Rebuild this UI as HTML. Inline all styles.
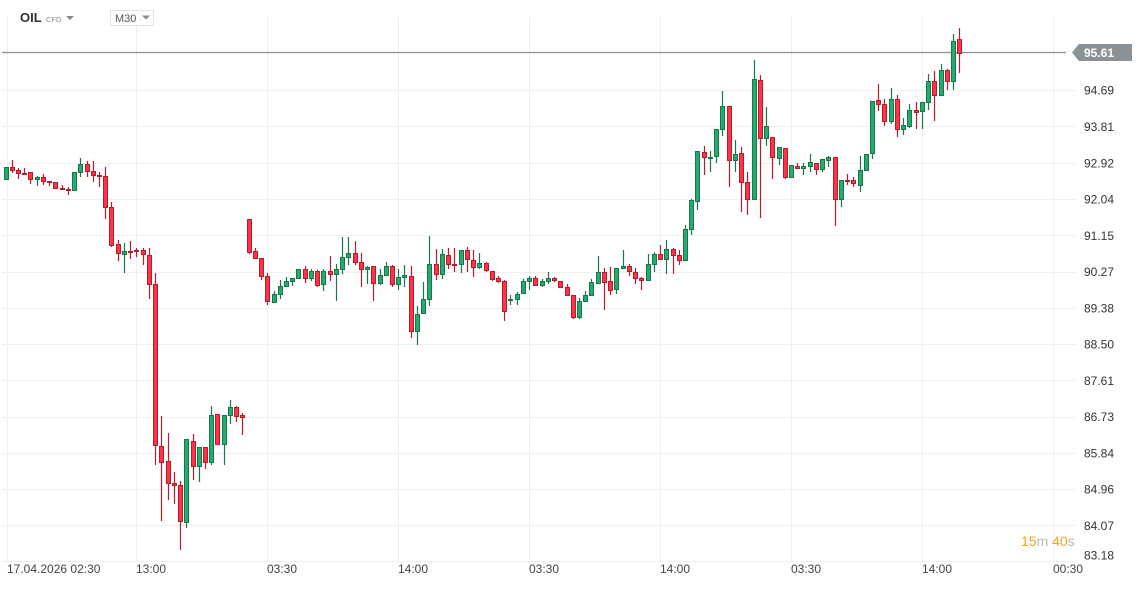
<!DOCTYPE html>
<html><head><meta charset="utf-8"><style>
html,body{margin:0;padding:0;background:#fff;}
body{width:1144px;height:586px;overflow:hidden;font-family:"Liberation Sans",Arial,sans-serif;}
svg text{font-family:"Liberation Sans",Arial,sans-serif;}
</style></head><body>
<svg id="c" width="1144" height="586" xmlns="http://www.w3.org/2000/svg">
<g id="grid" stroke="#efefef" stroke-width="1"></g>
<line x1="2" y1="561.5" x2="1075" y2="561.5" stroke="#efefef"/>
<line x1="2" y1="52.5" x2="1066" y2="52.5" stroke="#8a9297" stroke-width="1.3"/>
<polygon points="1072,52.5 1079,44 1132,44 1132,61 1079,61" fill="#8a9297"/>
<text x="1084" y="57" font-size="12" fill="#fff" font-weight="bold">95.61</text>
<g id="ylab" font-size="12" fill="#333"></g>
<g id="xlab" font-size="12" fill="#444"></g>
<g id="cand"></g>
<text x="20" y="22" font-size="13" font-weight="bold" fill="#333">OIL</text>
<text x="43" y="22" font-size="7.5" fill="#888">CFD</text>
<polygon points="66,16 74,16 70,20" fill="#888"/>
<rect x="110.5" y="10.5" width="43" height="15" fill="#fff" stroke="#e3e3e3"/>
<text x="115" y="22" font-size="11" fill="#555">M30</text>
<polygon points="142,15.5 150,15.5 146,19.5" fill="#888"/>
<text x="1021" y="546" font-size="14"><tspan fill="#f7a21b">15</tspan><tspan fill="#b8b8b8">m </tspan><tspan fill="#f7a21b">40</tspan><tspan fill="#b8b8b8">s</tspan></text>
</svg>
<script>
var NS="http://www.w3.org/2000/svg";
function el(p,t,a,txt){var e=document.createElementNS(NS,t);for(var k in a)e.setAttribute(k,a[k]);if(txt)e.textContent=txt;p.appendChild(e);return e;}
var g=document.getElementById("grid");
var ys=[90,126.4,162.8,199,235.3,271.5,307.8,344,380.3,416.5,452.8,489,525.3];
var lab=["94.69","93.81","92.92","92.04","91.15","90.27","89.38","88.50","87.61","86.73","85.84","84.96","84.07"];
ys.forEach(function(y){el(g,"line",{x1:2,x2:1075,y1:Math.round(y)+.5,y2:Math.round(y)+.5});});
var xs=[7,136,267,398,529,660,791,922,1053];
xs.forEach(function(x){el(g,"line",{x1:x+.5,x2:x+.5,y1:17,y2:561});});
var yl=document.getElementById("ylab");
ys.forEach(function(y,i){el(yl,"text",{x:1114,y:y+4.5,"text-anchor":"end"},lab[i]);});
el(yl,"text",{x:1114,y:559.5,"text-anchor":"end"},"83.18");
var xl=document.getElementById("xlab");
var xt=["17.04.2026 02:30","13:00","03:30","14:00","03:30","14:00","03:30","14:00","00:30"];
xs.forEach(function(x,i){el(xl,"text",{x:x,y:573},xt[i]);});
var D=[
[6,167,180,167,180,"g"],[12,167,171,160,173,"r"],[18,170,174,168,179,"r"],[24,173,175,168,175,"r"],[30,172,180,172,184,"r"],
[37,177,180,176,186,"g"],[43,177,182,174,185,"r"],[49,181,183,181,186,"r"],[55,182,189,182,189,"r"],[62,188,190,185,190,"r"],
[68,189,191,187,195,"r"],[74,172,191,172,191,"g"],[80,164,173,158,177,"g"],[87,164,172,161,177,"r"],[93,171,176,161,182,"r"],
[99,175,177,172,187,"r"],[105,176,208,167,219,"r"],[111,207,246,202,247,"r"],[118,244,254,240,261,"r"],[124,251,255,243,273,"g"],
[130,251,253,241,259,"r"],[136,250,252,248,257,"r"],[143,250,255,248,265,"r"],[149,255,285,248,299,"r"],[155,284,446,273,465,"r"],
[161,446,463,416,521,"r"],[168,461,484,433,500,"r"],[174,483,486,472,504,"r"],[180,485,522,481,550,"r"],[186,439,523,439,528,"g"],
[193,441,467,434,480,"r"],[199,447,467,447,482,"g"],[205,447,463,447,469,"r"],[211,415,463,406,465,"g"],[217,414,445,414,445,"r"],
[224,415,445,415,465,"g"],[230,407,416,400,424,"g"],[236,407,417,406,422,"r"],[242,415,418,413,435,"r"],[249,219,253,219,254,"r"],
[255,251,259,248,259,"r"],[261,258,277,258,280,"r"],[267,276,302,273,305,"r"],[274,294,303,291,303,"g"],[280,286,295,280,299,"g"],
[286,281,287,277,287,"g"],[292,278,282,278,286,"g"],[298,269,279,269,279,"g"],[305,269,279,266,283,"r"],[311,271,279,269,281,"g"],
[317,271,286,270,287,"r"],[323,271,285,269,291,"g"],[330,271,275,256,281,"r"],[336,269,275,264,301,"g"],[342,257,270,237,274,"g"],
[348,253,258,237,265,"g"],[355,253,263,241,265,"r"],[361,262,270,253,287,"r"],[367,267,270,266,284,"g"],[373,266,284,266,301,"r"],
[380,275,284,269,285,"g"],[386,266,276,262,276,"g"],[392,266,285,265,287,"r"],[398,277,285,269,290,"g"],[404,275,278,265,287,"g"],
[411,276,332,266,338,"r"],[417,314,332,306,345,"g"],[423,299,314,282,314,"g"],[429,264,300,236,306,"g"],[436,264,275,249,280,"r"],
[442,254,275,249,279,"g"],[448,255,265,248,269,"r"],[454,264,266,248,272,"r"],[461,250,265,250,273,"g"],[467,250,260,247,272,"r"],
[473,260,268,250,277,"r"],[479,263,268,253,269,"g"],[486,263,271,262,272,"r"],[492,271,280,271,281,"r"],[498,278,282,276,283,"r"],
[504,281,312,280,321,"r"],[510,299,301,295,305,"g"],[517,294,300,292,305,"g"],[523,281,294,279,294,"g"],[529,278,282,276,290,"g"],
[535,278,286,276,286,"r"],[542,281,286,279,287,"g"],[548,278,282,272,284,"g"],[554,278,281,277,282,"r"],[560,281,288,281,288,"r"],
[567,287,296,284,296,"r"],[573,295,318,295,319,"r"],[579,301,318,298,319,"g"],[585,295,302,291,302,"g"],[591,282,296,279,296,"g"],
[598,272,284,256,284,"g"],[604,272,283,268,310,"r"],[610,281,291,267,295,"r"],[616,268,290,268,294,"g"],[623,266,269,250,269,"g"],
[629,266,272,264,276,"r"],[635,272,279,268,284,"r"],[641,278,281,277,290,"r"],[648,264,281,254,281,"g"],[654,254,265,252,272,"g"],
[660,254,260,245,260,"r"],[666,249,260,240,274,"g"],[673,249,256,248,274,"r"],[679,255,261,250,265,"r"],[685,229,261,225,261,"g"],
[691,200,230,199,235,"g"],[697,151,202,151,210,"g"],[704,152,158,146,175,"r"],[710,157,159,151,172,"g"],[716,129,157,129,163,"g"],
[722,106,130,91,136,"g"],[729,106,161,106,187,"r"],[735,154,161,140,172,"g"],[741,153,183,147,212,"r"],[747,182,200,172,215,"r"],
[754,79,200,60,200,"g"],[760,80,139,75,218,"r"],[766,126,139,107,146,"g"],[772,137,158,137,179,"r"],[779,147,159,147,165,"g"],
[785,148,178,148,179,"r"],[791,165,178,165,178,"g"],[797,166,169,163,169,"r"],[803,166,169,163,175,"g"],[810,162,167,154,172,"g"],
[816,163,170,163,175,"r"],[822,159,170,159,172,"g"],[828,157,161,156,167,"g"],[835,157,200,157,226,"r"],[841,180,200,180,207,"g"],
[847,180,182,174,185,"r"],[853,180,184,177,187,"r"],[860,170,186,156,192,"g"],[866,154,171,154,171,"g"],[872,101,154,101,159,"g"],
[878,100,105,84,111,"r"],[884,104,122,99,126,"r"],[891,99,122,88,124,"g"],[897,99,130,95,137,"r"],[903,125,130,118,135,"g"],
[909,110,127,104,128,"g"],[916,110,113,102,129,"r"],[922,102,112,102,129,"g"],[928,81,103,74,110,"g"],[934,81,96,71,121,"r"],
[941,70,96,64,96,"g"],[947,70,82,69,90,"r"],[953,41,82,34,90,"g"],[959,39,54,28,73,"r"]
];
var c=document.getElementById("cand");
D.forEach(function(d){
 var x=d[0]+0.5, gr=d[5]=="g";
 var st=gr?"#17764a":"#b31d2c", fl=gr?"#24ab6e":"#ff3247";
 el(c,"line",{x1:x,x2:x,y1:d[3],y2:d[4],stroke:st,"stroke-width":1.2});
 var h=Math.max(d[2]-d[1],2);
 el(c,"rect",{x:d[0]-1.5,y:d[1]+.5,width:4,height:h-1,fill:fl,stroke:st,"stroke-width":1});
});
document.querySelector('text[font-size="7.5"]').setAttribute("x","46");
</script>
</body></html>
